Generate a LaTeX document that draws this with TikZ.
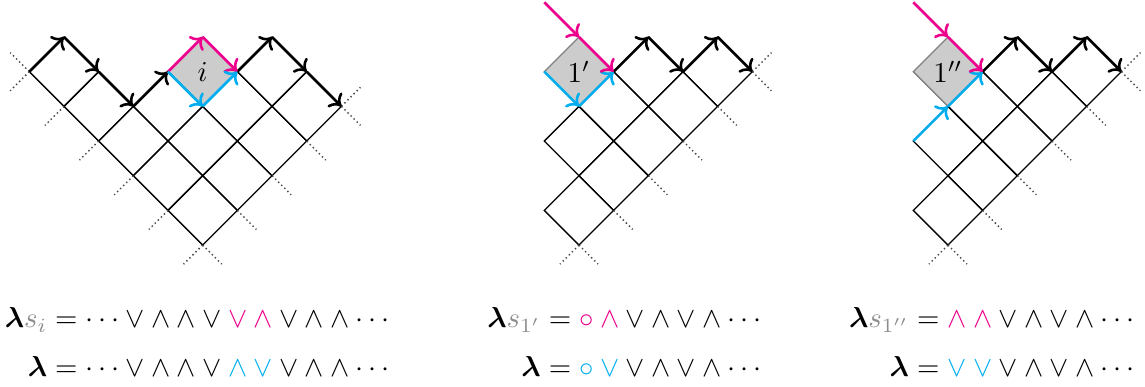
\documentclass[tikz,border=0pt]{standalone}
\usepackage{amsmath}
\usetikzlibrary{arrows.meta}
\definecolor{mypink}{RGB}{236,0,140}
\definecolor{myblue}{RGB}{0,174,239}
\definecolor{sgray}{RGB}{140,140,140}
\newcommand\pv{\mathbin{\textcolor{mypink}{\vee}}}
\newcommand\pw{\mathbin{\textcolor{mypink}{\wedge}}}
\newcommand\pc{\mathbin{\textcolor{mypink}{\circ}}}
\newcommand\bv{\mathbin{\textcolor{myblue}{\vee}}}
\newcommand\bw{\mathbin{\textcolor{myblue}{\wedge}}}
\newcommand\bc{\mathbin{\textcolor{myblue}{\circ}}}
\newcommand\bl{\boldsymbol{\lambda}}
\begin{document}
\begin{tikzpicture}[x=0.3472pt,y=-0.3472pt,
  cellline/.style={line width=0.45pt},
  ext/.style={densely dotted, line width=0.5pt, black!70},
  blkarrow/.style={line width=0.9pt, -{To[length=3.6pt,width=7pt]}},
  pkarrow/.style={blkarrow, draw=mypink},
  blarrow/.style={blkarrow, draw=myblue},
  sq/.style={fill=gray!40, draw=gray, line width=0.45pt},
  formula/.style={anchor=base east, inner sep=0pt}]
\useasboundingbox (0,0) rectangle (1145,387);

% ---------- left diagram ----------
\begin{scope}[shift={(29.3,71.7)},x=12.04pt,y=12.04pt]
  \filldraw[sq] (4,0)--(5,1)--(6,0)--(5,-1)--cycle;
  \foreach \a/\b in {1/0,2/-1,3/-2,4/-1,4/-3,5/-2,5/-4,6/-1,6/-3,7/0,7/-2,8/-1}
    \draw[cellline] (\a-1,\b) -- (\a,\b+1) -- (\a+1,\b) -- (\a,\b-1) -- cycle;
  \draw[ext] (0,0) -- ++(-0.55,0.55) (0,0) -- ++(-0.55,-0.55)
    (1,-1) -- ++(-0.55,-0.55) (2,-2) -- ++(-0.55,-0.55)
    (3,-3) -- ++(-0.55,-0.55) (4,-4) -- ++(-0.55,-0.55)
    (5,-5) -- ++(-0.55,-0.55) (5,-5) -- ++(0.55,-0.55)
    (6,-4) -- ++(0.55,-0.55) (7,-3) -- ++(0.55,-0.55)
    (8,-2) -- ++(0.55,-0.55) (9,-1) -- ++(0.55,-0.55) (9,-1) -- ++(0.55,0.55);
  \coordinate (a0) at (0,0);  \coordinate (a1) at (1,1);
  \coordinate (a2) at (2,0);  \coordinate (a3) at (3,-1);
  \coordinate (a4) at (4,0);  \coordinate (a5) at (5,-1);
  \coordinate (ap) at (5,1);  \coordinate (a6) at (6,0);
  \coordinate (a7) at (7,1);  \coordinate (a8) at (8,0);
  \coordinate (a9) at (9,-1);
  \foreach \s/\e in {a0/a1,a1/a2,a2/a3,a3/a4,a6/a7,a7/a8,a8/a9}
    \draw[blkarrow] (\s) -- (\e);
  \draw[pkarrow] (a4) -- (ap);
  \draw[pkarrow] (ap) -- (a6);
  \draw[blarrow] (a4) -- (a5);
  \draw[blarrow] (a5) -- (a6);
  \node (li) at (5,0) {$i$};
\end{scope}

% ---------- middle diagram ----------
\begin{scope}[shift={(544.3,71.7)},x=12.04pt,y=12.04pt]
  \filldraw[sq] (0,0)--(1,1)--(2,0)--(1,-1)--cycle;
  \foreach \a/\b in {1/-2,1/-4,2/-1,2/-3,3/-2,3/0,4/-1,5/0}
    \draw[cellline] (\a-1,\b) -- (\a,\b+1) -- (\a+1,\b) -- (\a,\b-1) -- cycle;
  \draw[ext] (6,0) -- ++(0.55,0.55) (6,0) -- ++(0.55,-0.55)
    (5,-1) -- ++(0.55,-0.55) (4,-2) -- ++(0.55,-0.55)
    (3,-3) -- ++(0.55,-0.55) (2,-4) -- ++(0.55,-0.55)
    (1,-5) -- ++(0.55,-0.55) (1,-5) -- ++(-0.55,-0.55);
  \coordinate (bs) at (0,2);  \coordinate (bt) at (1,1);
  \coordinate (b0) at (0,0);  \coordinate (b1) at (1,-1);
  \coordinate (b2) at (2,0);  \coordinate (b3) at (3,1);
  \coordinate (b4) at (4,0);  \coordinate (b5) at (5,1);
  \coordinate (b6) at (6,0);
  \foreach \s/\e in {b2/b3,b3/b4,b4/b5,b5/b6}
    \draw[blkarrow] (\s) -- (\e);
  \draw[blarrow] (b0) -- (b1);
  \draw[blarrow] (b1) -- (b2);
  \draw[pkarrow] (bs) -- (bt);
  \draw[pkarrow] (bt) -- (b2);
  \node (ml) at (1,0) {$1'$};
\end{scope}

% ---------- right diagram ----------
\begin{scope}[shift={(913.3,71.7)},x=12.04pt,y=12.04pt]
  \filldraw[sq] (0,0)--(1,1)--(2,0)--(1,-1)--cycle;
  \foreach \a/\b in {1/-2,1/-4,2/-1,2/-3,3/-2,3/0,4/-1,5/0}
    \draw[cellline] (\a-1,\b) -- (\a,\b+1) -- (\a+1,\b) -- (\a,\b-1) -- cycle;
  \draw[ext] (6,0) -- ++(0.55,0.55) (6,0) -- ++(0.55,-0.55)
    (5,-1) -- ++(0.55,-0.55) (4,-2) -- ++(0.55,-0.55)
    (3,-3) -- ++(0.55,-0.55) (2,-4) -- ++(0.55,-0.55)
    (1,-5) -- ++(0.55,-0.55) (1,-5) -- ++(-0.55,-0.55);
  \coordinate (cs) at (0,2);  \coordinate (ct) at (1,1);
  \coordinate (cl) at (0,-2); \coordinate (c1) at (1,-1);
  \coordinate (c2) at (2,0);  \coordinate (c3) at (3,1);
  \coordinate (c4) at (4,0);  \coordinate (c5) at (5,1);
  \coordinate (c6) at (6,0);
  \foreach \s/\e in {c2/c3,c3/c4,c4/c5,c5/c6}
    \draw[blkarrow] (\s) -- (\e);
  \draw[blarrow] (cl) -- (c1);
  \draw[blarrow] (c1) -- (c2);
  \draw[pkarrow] (cs) -- (ct);
  \draw[pkarrow] (ct) -- (c2);
  \node (rl) at (1,0) {$1''$};
\end{scope}

% ---------- formulas ----------
\node[formula] (f1) at (395,328) {$\bl\textcolor{sgray}{s_i} = \cdots\vee\wedge\wedge\vee\pv\pw\vee\wedge\wedge\cdots$};
\node[formula] (f2) at (395,377) {$\bl = \cdots\vee\wedge\wedge\vee\bw\bv\vee\wedge\wedge\cdots$};
\node[formula] (g1) at (767,328) {$\bl\textcolor{sgray}{s_{1'}} = \pc\pw\vee\wedge\vee\wedge\cdots$};
\node[formula] (g2) at (767,377) {$\bl = \bc\bv\vee\wedge\vee\wedge\cdots$};
\node[formula] (h1) at (1140,328) {$\bl\textcolor{sgray}{s_{1''}} = \pw\pw\vee\wedge\vee\wedge\cdots$};
\node[formula] (h2) at (1140,377) {$\bl = \bv\bv\vee\wedge\vee\wedge\cdots$};
\end{tikzpicture}
\end{document}
